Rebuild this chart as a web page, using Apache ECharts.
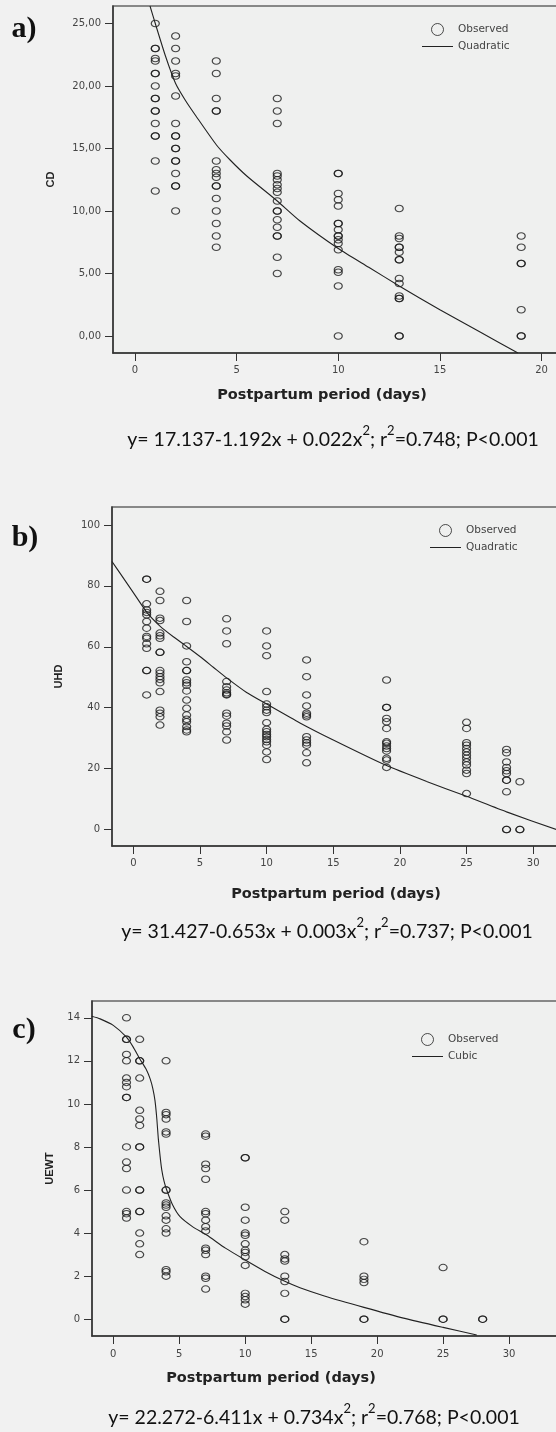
<!DOCTYPE html>
<html>
<head>
<meta charset="utf-8">
<style>
html,body{margin:0;padding:0;background:#f1f1f1;}
#c{width:556px;height:1432px;}
</style>
<script src="https://cdn.jsdelivr.net/npm/echarts@6/dist/echarts.min.js"></script>
</head>
<body>
<div id="c"></div>
<script>
// ---------- Panel a: CD ----------
const cdDays = [1, 2, 4, 7, 10, 13, 19];
const cdObserved = [
  [25, 23, 23, 22.2, 22, 21, 21, 20, 19, 19, 18, 18, 17, 16, 16, 14, 11.6],
  [24, 23, 22, 21, 20.8, 19.2, 17, 16, 16, 15, 15, 14, 14, 13, 12, 12, 10],
  [22, 21, 19, 18, 18, 14, 13.3, 13.0, 12.7, 12, 12, 11, 10, 9, 8, 7.1],
  [19, 18, 17, 13.0, 12.8, 12.5, 12.1, 11.8, 11.5, 10.8, 10, 10, 9.3, 8.7, 8, 8, 6.3, 5],
  [13, 13, 11.4, 10.9, 10.4, 9, 9, 8.5, 8, 8, 7.7, 7.4, 6.9, 5.3, 5.1, 4, 0],
  [10.2, 8.0, 7.8, 7.1, 7.1, 6.7, 6.1, 6.1, 4.6, 4.2, 3.2, 3.0, 3.0, 0, 0],
  [8, 7.1, 5.8, 5.8, 2.1, 0, 0]
];
const cdCurveX = [0.74, 1, 1.5, 2, 2.5, 3, 4, 4.67, 5.5, 7, 8.12, 10, 11.5, 13, 15, 17, 18.84];
const cdCurveY = [26.4, 25.0, 22.4, 20.2, 18.8, 17.6, 15.3, 14.1, 12.8, 10.8, 9.2, 7.0, 5.5, 4.0, 2.1, 0.3, -1.36];
const cdTicksX = [0, 5, 10, 15, 20];
const cdTicksY = [0, 5, 10, 15, 20, 25];

// ---------- Panel b: UHD ----------
const uhdDays = [1, 2, 4, 7, 10, 13, 19, 25, 28, 29];
const uhdObserved = [
  [82.2, 82.2, 74.1, 72.1, 71.3, 70.5, 68.3, 66.1, 63.4, 62.8, 61, 59.5, 52.2, 52.2, 44.2],
  [78.2, 75.2, 69.4, 68.6, 64.5, 63.6, 62.8, 58.2, 58.2, 52.2, 51.3, 50.2, 49.3, 48.2, 45.3, 39.2, 38.2, 37, 34.3],
  [75.2, 68.3, 60.3, 55.1, 52.2, 52.2, 49.1, 48.2, 47.4, 45.5, 42.5, 39.8, 37.6, 36.2, 35.4, 33.8, 32.7, 32.1],
  [69.2, 65.2, 61, 48.6, 46.9, 45.8, 44.9, 44.4, 44.2, 38.2, 37.3, 34.9, 34, 32.1, 29.4],
  [65.2, 60.3, 57.1, 45.3, 41.2, 40.3, 39.2, 38.4, 35.1, 32.9, 32.1, 31.2, 30.5, 29.6, 28.8, 27.7, 25.5, 23.0],
  [55.7, 50.2, 44.2, 40.6, 38.2, 37.6, 37, 30.5, 29.4, 28.5, 27.7, 25.2, 21.9],
  [49.1, 40.1, 40.1, 36.5, 35.4, 33.2, 28.8, 28.3, 27.4, 26.6, 25.8, 23.4, 22.8, 20.4],
  [35.2, 33.2, 28.5, 27.7, 26.6, 25.5, 24.4, 23.4, 22.2, 21.2, 19.5, 18.4, 11.8],
  [26.3, 25.2, 22.2, 20.4, 19.3, 18.4, 16.2, 16.2, 12.4, 0, 0],
  [15.7, 0, 0]
];
const uhdCurveX = [-1.6, -1, 0, 1, 2, 3, 4, 5, 6, 7, 8.5, 10, 12.5, 15, 19, 22, 25, 28, 31.86];
const uhdCurveY = [88, 84.2, 77.8, 71.4, 66.8, 63.3, 60.1, 56.8, 53.3, 49.8, 45.0, 41.2, 35.0, 29.4, 21.0, 15.8, 10.9, 5.8, -0.2];
const uhdTicksX = [0, 5, 10, 15, 20, 25, 30];
const uhdTicksY = [0, 20, 40, 60, 80, 100];

// ---------- Panel c: UEWT ----------
const uewtDays = [1, 2, 4, 7, 10, 13, 19, 25, 28];
const uewtObserved = [
  [14, 13, 13, 12.3, 12, 11.2, 11.0, 10.8, 10.3, 10.3, 8, 7.3, 7.0, 6, 5.0, 4.9, 4.7],
  [13, 12, 12, 11.2, 9.7, 9.3, 9.0, 8, 8, 6, 6, 5, 5, 4, 3.5, 3.0],
  [12, 9.6, 9.5, 9.3, 8.7, 8.6, 6, 6, 5.4, 5.3, 5.2, 4.8, 4.6, 4.2, 4.0, 2.3, 2.2, 2.0],
  [8.6, 8.5, 7.2, 7.0, 6.5, 5.0, 4.9, 4.6, 4.3, 4.1, 3.3, 3.2, 3.0, 2.0, 1.9, 1.4],
  [7.5, 7.5, 5.2, 4.6, 4.0, 3.9, 3.5, 3.2, 3.1, 2.9, 2.5, 1.2, 1.05, 0.9, 0.7],
  [5.0, 4.6, 3.0, 2.8, 2.7, 2.0, 1.75, 1.2, 0, 0],
  [3.6, 2.0, 1.85, 1.7, 0, 0],
  [2.4, 0, 0],
  [0, 0]
];
const uewtCurveX = [-1.64, -1, 0, 1, 1.5, 2, 2.5, 2.8, 3.0, 3.16, 3.3, 3.41, 3.55, 3.67, 3.85, 4.05, 4.5, 5.06, 6, 7.08, 8.5, 10, 11.5, 13, 14.15, 16, 19, 22, 25, 27.55];
const uewtCurveY = [14.07, 13.95, 13.65, 13.1, 12.65, 12.1, 11.6, 11.15, 10.7, 10.15, 9.3, 8.4, 7.55, 6.95, 6.4, 6.0, 5.3, 4.76, 4.3, 3.91, 3.3, 2.75, 2.22, 1.76, 1.46, 1.08, 0.55, 0.05, -0.38, -0.73];
const uewtTicksX = [0, 5, 10, 15, 20, 25, 30];
const uewtTicksY = [0, 2, 4, 6, 8, 10, 12, 14];

// ---------- helpers ----------
function flatten(days, obs) {
  const out = [];
  days.forEach((d, i) => obs[i].forEach(v => out.push([d, v])));
  return out;
}
function pairs(xs, ys) { return xs.map((x, i) => [x, ys[i]]); }

const INK = '#222';
const LABEL = '#444';
const tickFont = { fontFamily: 'DejaVu Sans', fontSize: 10, color: LABEL };

function xAxisFor(idx, min, max, ticks, margin) {
  return {
    type: 'value', gridIndex: idx, min: min, max: max,
    splitLine: { show: false },
    axisLine: { show: true, onZero: false, lineStyle: { color: '#333', width: 1.5 } },
    axisTick: { show: true, length: 8, customValues: ticks, lineStyle: { color: '#333', width: 1 } },
    axisLabel: Object.assign({ customValues: ticks, margin: margin }, tickFont)
  };
}
function yAxisFor(idx, min, max, ticks, name, gap, fmt) {
  return {
    type: 'value', gridIndex: idx, min: min, max: max,
    name: name, nameLocation: 'middle', nameGap: gap, nameRotate: 90,
    nameTextStyle: { fontFamily: 'Liberation Sans', fontWeight: 'bold', fontSize: 11, color: INK },
    splitLine: { show: false },
    axisLine: { show: true, onZero: false, lineStyle: { color: '#333', width: 1.5 } },
    axisTick: { show: true, length: 8, customValues: ticks, lineStyle: { color: '#333', width: 1 } },
    axisLabel: Object.assign({ customValues: ticks, margin: 12, formatter: fmt }, tickFont)
  };
}
const gridStyle = { show: true, borderColor: '#666', borderWidth: 1.5, backgroundColor: '#eff0ef', containLabel: false, outerBoundsMode: 'none' };

const scatterStyle = { color: 'rgba(0,0,0,0)', borderColor: '#1a1a1a', borderWidth: 1.1 };
function scatter(idx, data) {
  return { type: 'scatter', name: 'Observed', xAxisIndex: idx, yAxisIndex: idx, data: data,
    symbol: 'circle', symbolSize: [8, 6.5], itemStyle: scatterStyle, silent: true, z: 3 };
}
function curve(idx, name, data) {
  return { type: 'line', name: name, xAxisIndex: idx, yAxisIndex: idx, data: data,
    symbol: 'none', showSymbol: false, smooth: 0.2, lineStyle: { color: INK, width: 1.1 },
    itemStyle: { color: INK }, silent: true, z: 4 };
}
function legendAt(left, top, fitName) {
  return {
    left: left, top: top, orient: 'vertical', itemWidth: 31, itemHeight: 12, itemGap: 5,
    padding: 0, selectedMode: false,
    textStyle: { fontFamily: 'DejaVu Sans', fontSize: 10.5, color: '#444' },
    data: [
      { name: 'Observed', icon: 'circle', itemStyle: { color: 'rgba(0,0,0,0)', borderColor: INK, borderWidth: 1 } },
      { name: fitName, icon: 'path://M0,0 H31 V1 H0 Z', itemStyle: { color: INK, borderWidth: 0 } }
    ]
  };
}

const eqStyle = { fontFamily: 'Lato', fontSize: 19.5, fill: '#111', lineHeight: 32,
  rich: { s: { fontFamily: 'Lato', fontSize: 13, fill: '#111', verticalAlign: 'top', lineHeight: 11 } } };
function eq(x, y, text) {
  return { type: 'text', x: x, y: y, silent: true,
    style: Object.assign({ text: text, align: 'center', verticalAlign: 'middle' }, eqStyle) };
}
function xTitle(x, y) {
  return { type: 'text', x: x, y: y, silent: true,
    style: { text: 'Postpartum period (days)', fontFamily: 'DejaVu Sans', fontWeight: 'bold', fontSize: 14.5,
      fill: INK, align: 'center', verticalAlign: 'middle' } };
}
function panelLabel(x, y, t) {
  return { type: 'text', x: x, y: y, silent: true,
    style: { text: t, fontFamily: 'Liberation Serif', fontWeight: 'bold', fontSize: 30,
      fill: '#111', align: 'center', verticalAlign: 'middle' } };
}

const chart = echarts.init(document.getElementById('c'), null, { renderer: 'canvas' });
chart.setOption({
  backgroundColor: '#f1f1f1',
  animation: false,
  grid: [
    Object.assign({ left: 113, top: 6, width: 445, height: 347 }, gridStyle),
    Object.assign({ left: 112, top: 507, width: 446, height: 339 }, gridStyle),
    Object.assign({ left: 92, top: 1001, width: 466, height: 335 }, gridStyle)
  ],
  xAxis: [
    xAxisFor(0, -1.08, 20.81, cdTicksX, 12),
    xAxisFor(1, -1.6, 31.86, uhdTicksX, 12),
    xAxisFor(2, -1.615, 33.71, uewtTicksX, 13)
  ],
  yAxis: [
    yAxisFor(0, -1.36, 26.4, cdTicksY, 'CD', 57, v => v.toFixed(2).replace('.', ',')),
    yAxisFor(1, -5.4, 105.9, uhdTicksY, 'UHD', 48, v => String(v)),
    yAxisFor(2, -0.78, 14.78, uewtTicksY, 'UEWT', 37, v => String(v))
  ],
  legend: [
    legendAt(422, 23, 'Quadratic'),
    legendAt(430, 524, 'Quadratic'),
    legendAt(412, 1033, 'Cubic')
  ],
  series: [
    scatter(0, flatten(cdDays, cdObserved)),
    curve(0, 'Quadratic', pairs(cdCurveX, cdCurveY)),
    scatter(1, flatten(uhdDays, uhdObserved)),
    curve(1, 'Quadratic', pairs(uhdCurveX, uhdCurveY)),
    scatter(2, flatten(uewtDays, uewtObserved)),
    curve(2, 'Cubic', pairs(uewtCurveX, uewtCurveY))
  ],
  graphic: [
    panelLabel(24, 29, 'a)'),
    panelLabel(25, 538, 'b)'),
    panelLabel(24, 1030, 'c)'),
    xTitle(322, 395),
    xTitle(336, 894),
    xTitle(271, 1378),
    eq(333, 440, 'y= 17.137-1.192x + 0.022x{s|2}; r{s|2}=0.748; P<0.001'),
    eq(327, 932, 'y= 31.427-0.653x + 0.003x{s|2}; r{s|2}=0.737; P<0.001'),
    eq(314, 1418, 'y= 22.272-6.411x + 0.734x{s|2}; r{s|2}=0.768; P<0.001')
  ]
});
</script>
</body>
</html>
